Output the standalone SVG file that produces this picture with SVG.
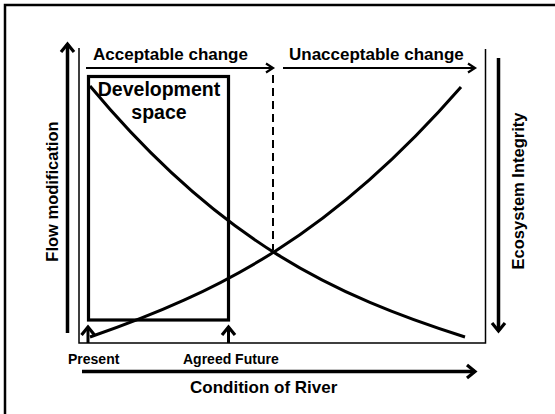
<svg xmlns="http://www.w3.org/2000/svg" width="555" height="414" viewBox="0 0 555 414">
<style>
text{font-family:"Liberation Sans",Arial,sans-serif;font-weight:bold;fill:#000}
.thin{fill:none;stroke:#000;stroke-width:1.5}
.thick{fill:none;stroke:#000;stroke-width:3.5}
.mid{fill:none;stroke:#000;stroke-width:2.2}
.curve{fill:none;stroke:#000;stroke-width:3}
</style>
<defs>
<marker id="hBig" markerUnits="userSpaceOnUse" markerWidth="20" markerHeight="20" refX="11" refY="8" orient="auto" overflow="visible">
<path d="M3,1.5 L11,8 L3,14.5" fill="none" stroke="#000" stroke-width="3.2"/>
</marker>
<marker id="hSmall" markerUnits="userSpaceOnUse" markerWidth="20" markerHeight="20" refX="10" refY="6" orient="auto" overflow="visible">
<path d="M3,1.5 L10,6 L3,10.5" fill="none" stroke="#000" stroke-width="2.2"/>
</marker>
</defs>
<rect width="555" height="414" fill="#fff"/>
<path d="M5,414 V5 H555" fill="none" stroke="#000" stroke-width="2.5"/>

<g id="plot-frame">
<path class="thin" d="M79,48 V343 H485.5 V49"/>
</g>

<g id="connectors">
<line class="thick" x1="67.5" y1="333" x2="67.5" y2="44" marker-end="url(#hBig)"/>
<line class="thick" x1="498.5" y1="58" x2="498.5" y2="331" marker-end="url(#hBig)"/>
<line class="thick" x1="82" y1="371.5" x2="475" y2="371.5" marker-end="url(#hBig)"/>
<line class="mid" x1="86" y1="68" x2="273" y2="68" marker-end="url(#hSmall)"/>
<line class="mid" x1="283" y1="68" x2="475" y2="68" marker-end="url(#hSmall)"/>
<line class="thick" x1="88" y1="343" x2="88" y2="327" marker-end="url(#hBig)" style="stroke-width:3"/>
<line class="thick" x1="228.5" y1="343" x2="228.5" y2="327" marker-end="url(#hBig)" style="stroke-width:3"/>
<line x1="273" y1="75" x2="273" y2="250" stroke="#000" stroke-width="2" stroke-dasharray="8,5"/>
<path id="curve-flow" class="curve" d="M90,86 C220,242 335,296 465,337"/>
<path id="curve-eco" class="curve" d="M90,337 C220,292 331,236 461,87"/>
</g>

<g id="development-space">
<rect x="88.5" y="76.5" width="140" height="243.5" fill="none" stroke="#000" stroke-width="3.2"/>
<text x="159" y="96" font-size="19.5" text-anchor="middle">Development</text>
<text x="159" y="119" font-size="19.5" text-anchor="middle">space</text>
</g>

<g id="label-acceptable"><text x="93" y="60" font-size="17">Acceptable change</text></g>
<g id="label-unacceptable"><text x="289" y="60" font-size="17">Unacceptable change</text></g>
<g id="label-flow"><text transform="translate(58,191.5) rotate(-90)" font-size="16.5" text-anchor="middle">Flow modification</text></g>
<g id="label-eco"><text transform="translate(524,191) rotate(-90)" font-size="16.5" text-anchor="middle">Ecosystem Integrity</text></g>
<g id="label-present"><text x="68" y="364" font-size="14">Present</text></g>
<g id="label-agreed"><text x="183" y="364" font-size="14">Agreed Future</text></g>
<g id="label-condition"><text x="190" y="393" font-size="17">Condition of River</text></g>
</svg>
